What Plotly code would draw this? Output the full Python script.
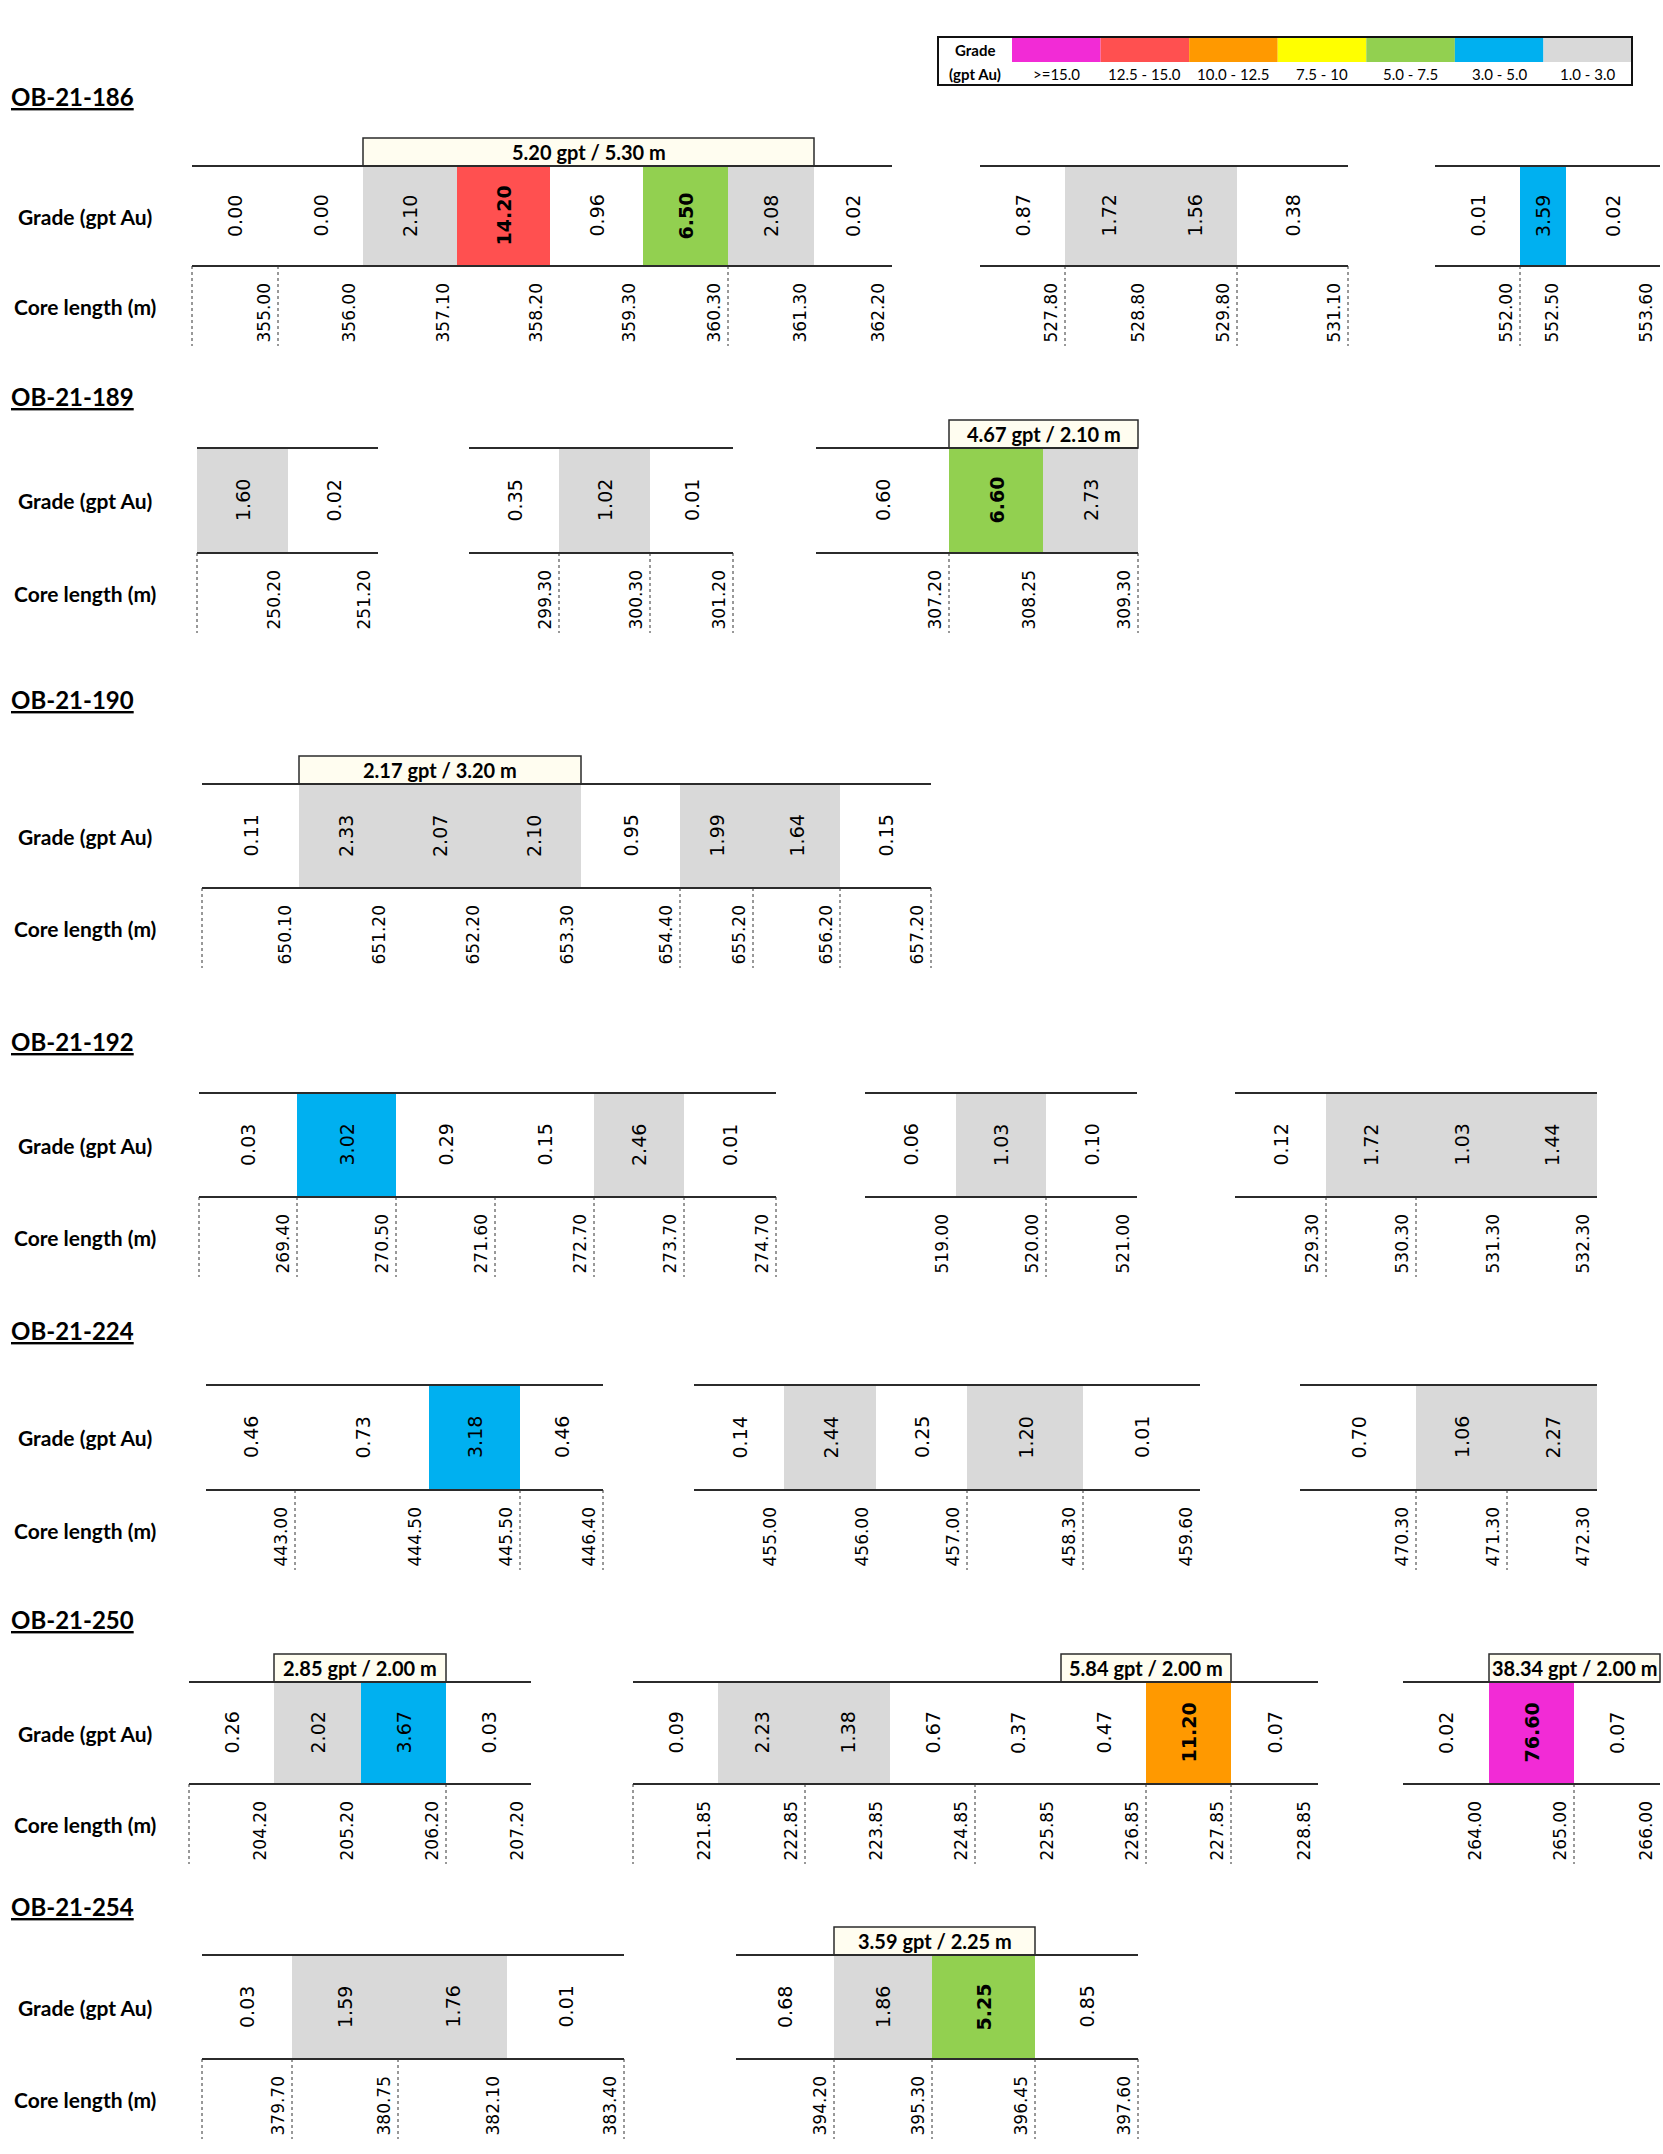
import plotly.graph_objects as go

# ------------------------------------------------------------------ data
HOLES = ["OB-21-186", "OB-21-189", "OB-21-190", "OB-21-192",
         "OB-21-224", "OB-21-250", "OB-21-254"]

grade_186 = [[0.00, 0.00, 2.10, 14.20, 0.96, 6.50, 2.08, 0.02],
             [0.87, 1.72, 1.56, 0.38],
             [0.01, 3.59, 0.02]]
depth_186 = [[355.00, 356.00, 357.10, 358.20, 359.30, 360.30, 361.30, 362.20],
             [527.80, 528.80, 529.80, 531.10],
             [552.00, 552.50, 553.60]]
intercept_186 = ["5.20 gpt / 5.30 m", None, None]

grade_189 = [[1.60, 0.02], [0.35, 1.02, 0.01], [0.60, 6.60, 2.73]]
depth_189 = [[250.20, 251.20], [299.30, 300.30, 301.20], [307.20, 308.25, 309.30]]
intercept_189 = [None, None, "4.67 gpt / 2.10 m"]

grade_190 = [[0.11, 2.33, 2.07, 2.10, 0.95, 1.99, 1.64, 0.15]]
depth_190 = [[650.10, 651.20, 652.20, 653.30, 654.40, 655.20, 656.20, 657.20]]
intercept_190 = ["2.17 gpt / 3.20 m"]

grade_192 = [[0.03, 3.02, 0.29, 0.15, 2.46, 0.01],
             [0.06, 1.03, 0.10],
             [0.12, 1.72, 1.03, 1.44]]
depth_192 = [[269.40, 270.50, 271.60, 272.70, 273.70, 274.70],
             [519.00, 520.00, 521.00],
             [529.30, 530.30, 531.30, 532.30]]
intercept_192 = [None, None, None]

grade_224 = [[0.46, 0.73, 3.18, 0.46],
             [0.14, 2.44, 0.25, 1.20, 0.01],
             [0.70, 1.06, 2.27]]
depth_224 = [[443.00, 444.50, 445.50, 446.40],
             [455.00, 456.00, 457.00, 458.30, 459.60],
             [470.30, 471.30, 472.30]]
intercept_224 = [None, None, None]

grade_250 = [[0.26, 2.02, 3.67, 0.03],
             [0.09, 2.23, 1.38, 0.67, 0.37, 0.47, 11.20, 0.07],
             [0.02, 76.60, 0.07]]
depth_250 = [[204.20, 205.20, 206.20, 207.20],
             [221.85, 222.85, 223.85, 224.85, 225.85, 226.85, 227.85, 228.85],
             [264.00, 265.00, 266.00]]
intercept_250 = ["2.85 gpt / 2.00 m", "5.84 gpt / 2.00 m", "38.34 gpt / 2.00 m"]

grade_254 = [[0.03, 1.59, 1.76, 0.01], [0.68, 1.86, 5.25, 0.85]]
depth_254 = [[379.70, 380.75, 382.10, 383.40], [394.20, 395.30, 396.45, 397.60]]
intercept_254 = [None, "3.59 gpt / 2.25 m"]

GRADES = [grade_186, grade_189, grade_190, grade_192, grade_224, grade_250, grade_254]
DEPTHS = [depth_186, depth_189, depth_190, depth_192, depth_224, depth_250, depth_254]
INTERCEPTS = [intercept_186, intercept_189, intercept_190, intercept_192,
              intercept_224, intercept_250, intercept_254]

LEGEND_LABELS = [">=15.0", "12.5 - 15.0", "10.0 - 12.5", "7.5 - 10",
                 "5.0 - 7.5", "3.0 - 5.0", "1.0 - 3.0"]
GRADE_BINS = [15.0, 12.5, 10.0, 7.5, 5.0, 3.0, 1.0]

# ------------------------------------------------------------------ layout / style
GRADE_COLORS = ["#F22BD6", "#FF5050", "#FF9900", "#FFFF00", "#92D050", "#00B0F0", "#D9D9D9"]
BOLD_FROM = 5.0

FIG_W, FIG_H = 1663, 2154
TITLE_Y = [96, 396, 699, 1041, 1330, 1619, 1906]
ROW_TOP = [166, 448, 784, 1093, 1385, 1682, 1955]
ROW_BOT = [266, 553, 888, 1197, 1490, 1784, 2059]
DASH_LEN = 80
BOX_H = 28
LABEL_X = 85

# per hole, per group: start x, column widths, intercept span, dashed boundaries
GROUP_X0 = [[192, 980, 1435], [197, 469, 816], [202], [199, 865, 1235],
            [206, 694, 1300], [189, 633, 1403], [202, 736]]
GROUP_W = [
    [[86, 85, 94, 93, 93, 85, 86, 78], [85, 87, 85, 111], [85, 46, 94]],
    [[91, 90], [90, 91, 83], [133, 94, 95]],
    [[97, 94, 94, 94, 99, 73, 87, 91]],
    [[98, 99, 99, 99, 90, 92], [91, 90, 91], [91, 90, 91, 90]],
    [[89, 134, 91, 83], [90, 92, 91, 116, 117], [116, 91, 90]],
    [[85, 87, 85, 85], [85, 87, 85, 85, 86, 85, 85, 87], [86, 85, 86]],
    [[90, 106, 109, 117], [98, 98, 103, 103]],
]
SPAN = [
    [(2, 6), None, None],
    [None, None, (1, 2)],
    [(1, 3)],
    [None, None, None],
    [None, None, None],
    [(1, 2), (5, 6), (1, 2)],
    [None, (1, 2)],
]
DASHED = [
    [[0, 1, 6], [1, 3, 4], [1]],
    [[0], [1, 2, 3], [1, 3]],
    [[0, 5, 6, 7, 8]],
    [[0, 1, 2, 3, 4, 5, 6], [2], [1, 2]],
    [[1, 3, 4], [3, 4], [1, 2]],
    [[0, 3], [0, 2, 4, 6, 7], [2]],
    [[0, 1, 2, 4], [1, 2, 3, 4]],
]

LABEL_FONT = "Lato, Open Sans, Liberation Sans, sans-serif"
VERD = "DejaVu Sans, Verdana, sans-serif"
LINE_C = "#2b2b2b"


def grade_color(g):
    for b, c in zip(GRADE_BINS, GRADE_COLORS):
        if g >= b:
            return c
    return None


shapes = []
ann = []


def add_text(x, y, text, size, family, bold=False, angle=0, xanchor="center",
             yanchor="middle", underline=False, color="#000000"):
    font = dict(size=size, family=family, color=color,
                weight="bold" if bold else "normal")
    if underline:
        font["lineposition"] = "under"
    ann.append(dict(x=x, y=y, xref="x", yref="y", text=text, showarrow=False,
                    textangle=angle, xanchor=xanchor, yanchor=yanchor, font=font))


for h, name in enumerate(HOLES):
    top, bot = ROW_TOP[h], ROW_BOT[h]
    mid = (top + bot) / 2
    add_text(9, TITLE_Y[h], name, 24, LABEL_FONT, bold=True, xanchor="left", underline=True)
    add_text(LABEL_X, mid, "Grade (gpt Au)", 21, LABEL_FONT, bold=True)
    add_text(LABEL_X, bot + DASH_LEN / 2, "Core length (m)", 21, LABEL_FONT, bold=True)

    for g, grades in enumerate(GRADES[h]):
        widths = GROUP_W[h][g]
        bounds = [GROUP_X0[h][g]]
        for w in widths:
            bounds.append(bounds[-1] + w)
        # cell fills
        for i, val in enumerate(grades):
            col = grade_color(val)
            if col:
                shapes.append(dict(type="rect", xref="x", yref="y", x0=bounds[i], x1=bounds[i + 1],
                                   y0=top, y1=bot, fillcolor=col, line=dict(width=0), layer="below"))
        # intercept box
        sp = SPAN[h][g]
        if sp is not None and INTERCEPTS[h][g]:
            x0, x1 = bounds[sp[0]], bounds[sp[1] + 1]
            shapes.append(dict(type="rect", xref="x", yref="y", x0=x0, x1=x1, y0=top - BOX_H, y1=top,
                               fillcolor="#FFFDF0", line=dict(color=LINE_C, width=1.5)))
            add_text((x0 + x1) / 2, top - BOX_H / 2, INTERCEPTS[h][g], 20, LABEL_FONT, bold=True)
        # top / bottom lines
        for yy in (top, bot):
            shapes.append(dict(type="line", xref="x", yref="y", x0=bounds[0], x1=bounds[-1],
                               y0=yy, y1=yy, line=dict(color=LINE_C, width=2)))
        # dashed separators
        for k in DASHED[h][g]:
            shapes.append(dict(type="line", xref="x", yref="y", x0=bounds[k], x1=bounds[k],
                               y0=bot, y1=bot + DASH_LEN,
                               line=dict(color="#333333", width=1, dash="3px,3px")))
        # grade values
        for i, val in enumerate(grades):
            add_text((bounds[i] + bounds[i + 1]) / 2, mid, f"{val:.2f}", 19, VERD,
                     bold=val >= BOLD_FROM, angle=-90)
        # depth labels
        for i, d in enumerate(DEPTHS[h][g]):
            add_text(bounds[i + 1] - 15, bot + DASH_LEN - 1, f"{d:.2f}", 17, VERD,
                     angle=-90, yanchor="bottom")

# ------------------------------------------------------------------ legend
LG_X0, LG_X1, LG_Y0, LG_Y1 = 938, 1632, 37, 85
LG_HEAD = 74
LG_MID = 62
cw = (LG_X1 - LG_X0 - LG_HEAD) / len(LEGEND_LABELS)
for i, (lab, col) in enumerate(zip(LEGEND_LABELS, GRADE_COLORS)):
    cx0 = LG_X0 + LG_HEAD + i * cw
    shapes.append(dict(type="rect", xref="x", yref="y", x0=cx0, x1=cx0 + cw, y0=LG_Y0, y1=LG_MID,
                       fillcolor=col, line=dict(width=0)))
    add_text(cx0 + cw / 2, (LG_MID + LG_Y1) / 2, lab, 15, LABEL_FONT)
shapes.append(dict(type="rect", xref="x", yref="y", x0=LG_X0, x1=LG_X1, y0=LG_Y0, y1=LG_Y1,
                   line=dict(color="#111111", width=2), fillcolor="rgba(0,0,0,0)"))
add_text(LG_X0 + LG_HEAD / 2, (LG_Y0 + LG_MID) / 2, "Grade", 15, LABEL_FONT, bold=True)
add_text(LG_X0 + LG_HEAD / 2, (LG_MID + LG_Y1) / 2, "(gpt Au)", 15, LABEL_FONT, bold=True)

fig = go.Figure(go.Scatter(x=[], y=[], mode="markers", showlegend=False, hoverinfo="skip"))
fig.update_layout(
    width=FIG_W, height=FIG_H,
    margin=dict(l=0, r=0, t=0, b=0),
    paper_bgcolor="white", plot_bgcolor="white",
    xaxis=dict(range=[0, FIG_W], visible=False, fixedrange=True),
    yaxis=dict(range=[FIG_H, 0], visible=False, fixedrange=True),
    shapes=shapes, annotations=ann, showlegend=False,
)
fig.write_html("out.html", config={"displayModeBar": False},
               post_script="document.body.style.margin='0';document.body.style.overflow='hidden';")
